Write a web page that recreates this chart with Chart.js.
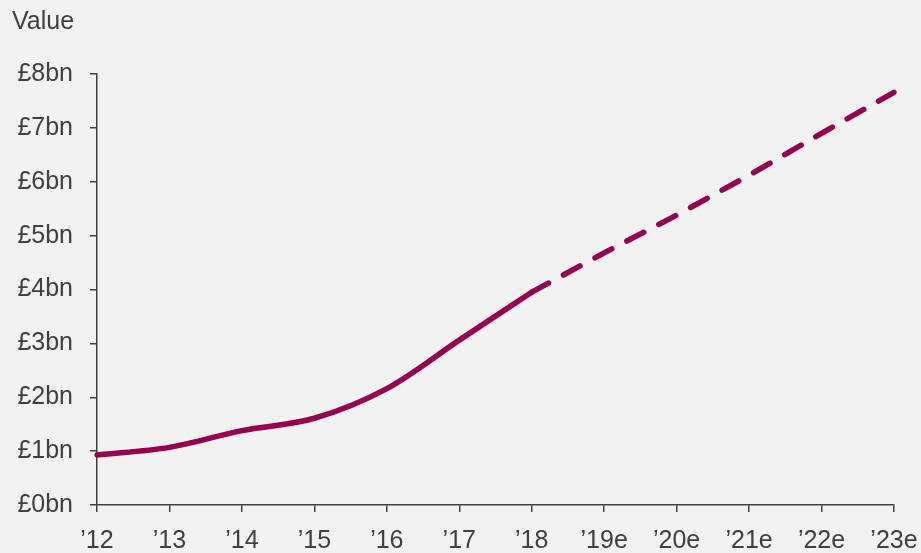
<!DOCTYPE html>
<html>
<head>
<meta charset="utf-8">
<script src="https://cdn.jsdelivr.net/npm/chart.js@4/dist/chart.umd.min.js"></script>
<style>
  html, body { margin: 0; padding: 0; background: #f2f2f2; }
  #wrap { width: 921px; height: 553px; }
</style>
</head>
<body>
<div id="wrap"><canvas id="grafico" width="921" height="553"></canvas></div>
<script>
const anos = ['’12', '’13', '’14', '’15', '’16', '’17', '’18', '’19e', '’20e', '’21e', '’22e', '’23e'];
const valoresReais = [0.93, 1.07, 1.38, 1.61, 2.16, 3.06, 3.95, null, null, null, null, null];
const valoresPrevistos = [null, null, null, null, null, null, 3.95, 4.68, 5.38, 6.12, 6.9, 7.66];
const ticksY = [0, 1, 2, 3, 4, 5, 6, 7, 8];

const corLinha = '#95004f';
const corTexto = '#404040';
const fonte = '"Liberation Sans", Arial, sans-serif';

// escreve "Value" no canto superior
const tituloEixo = {
    id: 'tituloEixo',
    afterDraw(chart) {
        const ctx = chart.ctx;
        ctx.save();
        ctx.font = '25px ' + fonte;
        ctx.fillStyle = corTexto;
        ctx.textBaseline = 'middle';
        ctx.textAlign = 'left';
        ctx.fillText('Value', 12, 22);
        ctx.restore();
    }
};

Chart.defaults.font.family = fonte;
Chart.defaults.font.size = 25;
Chart.defaults.color = corTexto;

new Chart(document.getElementById('grafico').getContext('2d'), {
    type: 'line',
    data: {
        labels: anos,
        datasets: [
            {
                data: valoresReais,
                borderColor: corLinha,
                borderWidth: 5.5,
                cubicInterpolationMode: 'monotone',
                pointRadius: 0,
                borderCapStyle: 'round',
                borderJoinStyle: 'round'
            },
            {
                data: valoresPrevistos,
                borderColor: corLinha,
                borderWidth: 5.5,
                borderDash: [19, 17],
                borderCapStyle: 'round',
                tension: 0,
                pointRadius: 0
            }
        ]
    },
    options: {
        responsive: false,
        animation: false,
        layout: { padding: { left: 12, right: 27, top: 74, bottom: 0 } },
        plugins: {
            legend: { display: false },
            tooltip: { enabled: false }
        },
        scales: {
            x: {
                offset: false,
                grid: { drawOnChartArea: false, tickLength: 7, color: corTexto, lineWidth: 1.5 },
                border: { color: corTexto, width: 1.5 },
                ticks: { padding: 14, maxRotation: 0, autoSkip: false },
                afterFit(scale) {
                    scale.height = 48;
                    scale.paddingLeft = 0;
                    scale.paddingRight = 0;
                }
            },
            y: {
                min: 0,
                max: 8,
                afterBuildTicks(scale) { scale.ticks = ticksY.map(v => ({ value: v })); },
                grid: { drawOnChartArea: false, tickLength: 7, color: corTexto, lineWidth: 1.5 },
                border: { color: corTexto, width: 1.5 },
                ticks: { padding: 17, callback: v => '£' + v + 'bn' },
                afterFit(scale) {
                    scale.width = 85;
                    scale.paddingTop = 0;
                    scale.paddingBottom = 0;
                }
            }
        }
    },
    plugins: [tituloEixo]
});
</script>
</body>
</html>
